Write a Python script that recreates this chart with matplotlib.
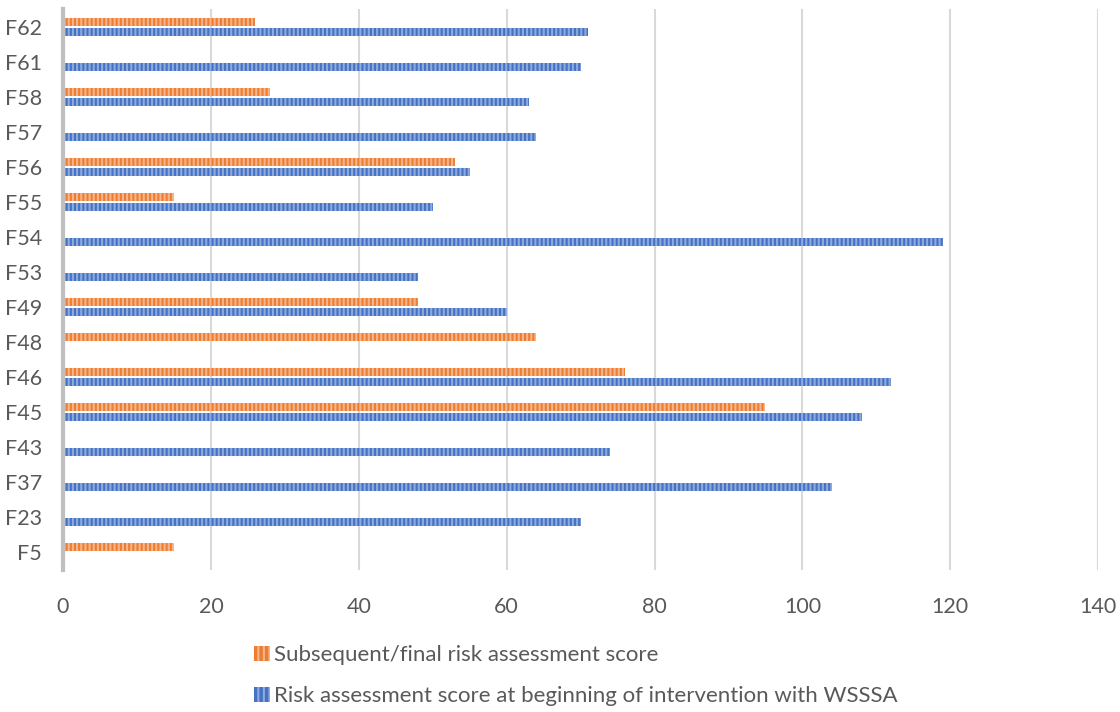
import matplotlib
matplotlib.use("Agg")
import matplotlib.pyplot as plt
from matplotlib.patches import Rectangle
import numpy as np

categories = ["F5", "F23", "F37", "F43", "F45", "F46", "F48", "F49",
              "F53", "F54", "F55", "F56", "F57", "F58", "F61", "F62"]
final_scores = [15, 0, 0, 0, 95, 76, 64, 48, 0, 0, 15, 53, 0, 28, 0, 26]
initial_scores = [0, 70, 104, 74, 108, 112, 0, 60, 48, 119, 50, 55, 64, 63, 70, 71]
x_ticks = [0, 20, 40, 60, 80, 100, 120, 140]

final_label = "Subsequent/final risk assessment score"
initial_label = "Risk assessment score at beginning of intervention with WSSSA"

orange, orange_light = "#ED7D31", "#F6B58A"
blue, blue_light = "#4472C4", "#8FAADC"
text_gray = "#595959"

plt.rcParams["font.family"] = ["Lato", "DejaVu Sans"]
plt.rcParams["hatch.linewidth"] = 1.5

fig = plt.figure(figsize=(11.2, 7.12), dpi=100)
ax = fig.add_axes([0.05625, 0.2001, 0.9243, 0.7866])

y = np.arange(len(categories))
h = 0.23
off = 0.15

ax.barh(y + off, final_scores, height=h, color=orange, edgecolor=orange_light,
        hatch="||||", linewidth=0, zorder=3)
ax.barh(y - off, initial_scores, height=h, color=blue, edgecolor=blue_light,
        hatch="||||", linewidth=0, zorder=3)

ax.set_xlim(0, 140)
ax.set_ylim(-0.5, len(categories) - 0.5)
ax.set_xticks(x_ticks)
ax.set_yticks(y)
ax.set_yticklabels(categories)
ax.tick_params(axis="both", length=0, labelsize=15.5, colors=text_gray)
ax.tick_params(axis="x", pad=20)
ax.tick_params(axis="y", pad=15)

ax.grid(axis="x", color="#D9D9D9", linewidth=1.5, zorder=0)
for side in ["top", "right", "bottom"]:
    ax.spines[side].set_visible(False)
ax.spines["left"].set_color("#BFBFBF")
ax.spines["left"].set_linewidth(3)
ax.spines["left"].set_zorder(4)

handles = [
    Rectangle((0, 0), 1, 1, facecolor=orange, edgecolor=orange_light, hatch="|||", linewidth=0),
    Rectangle((0, 0), 1, 1, facecolor=blue, edgecolor=blue_light, hatch="|||", linewidth=0),
]
fig.legend(handles, [final_label, initial_label], loc="upper left",
           bbox_to_anchor=(0.227, 0.094), frameon=False, fontsize=16,
           labelcolor=text_gray, handlelength=0.7, handleheight=0.7,
           handletextpad=0.2, labelspacing=0.95, borderaxespad=0, borderpad=0)

fig.savefig("out.png", dpi=100)
